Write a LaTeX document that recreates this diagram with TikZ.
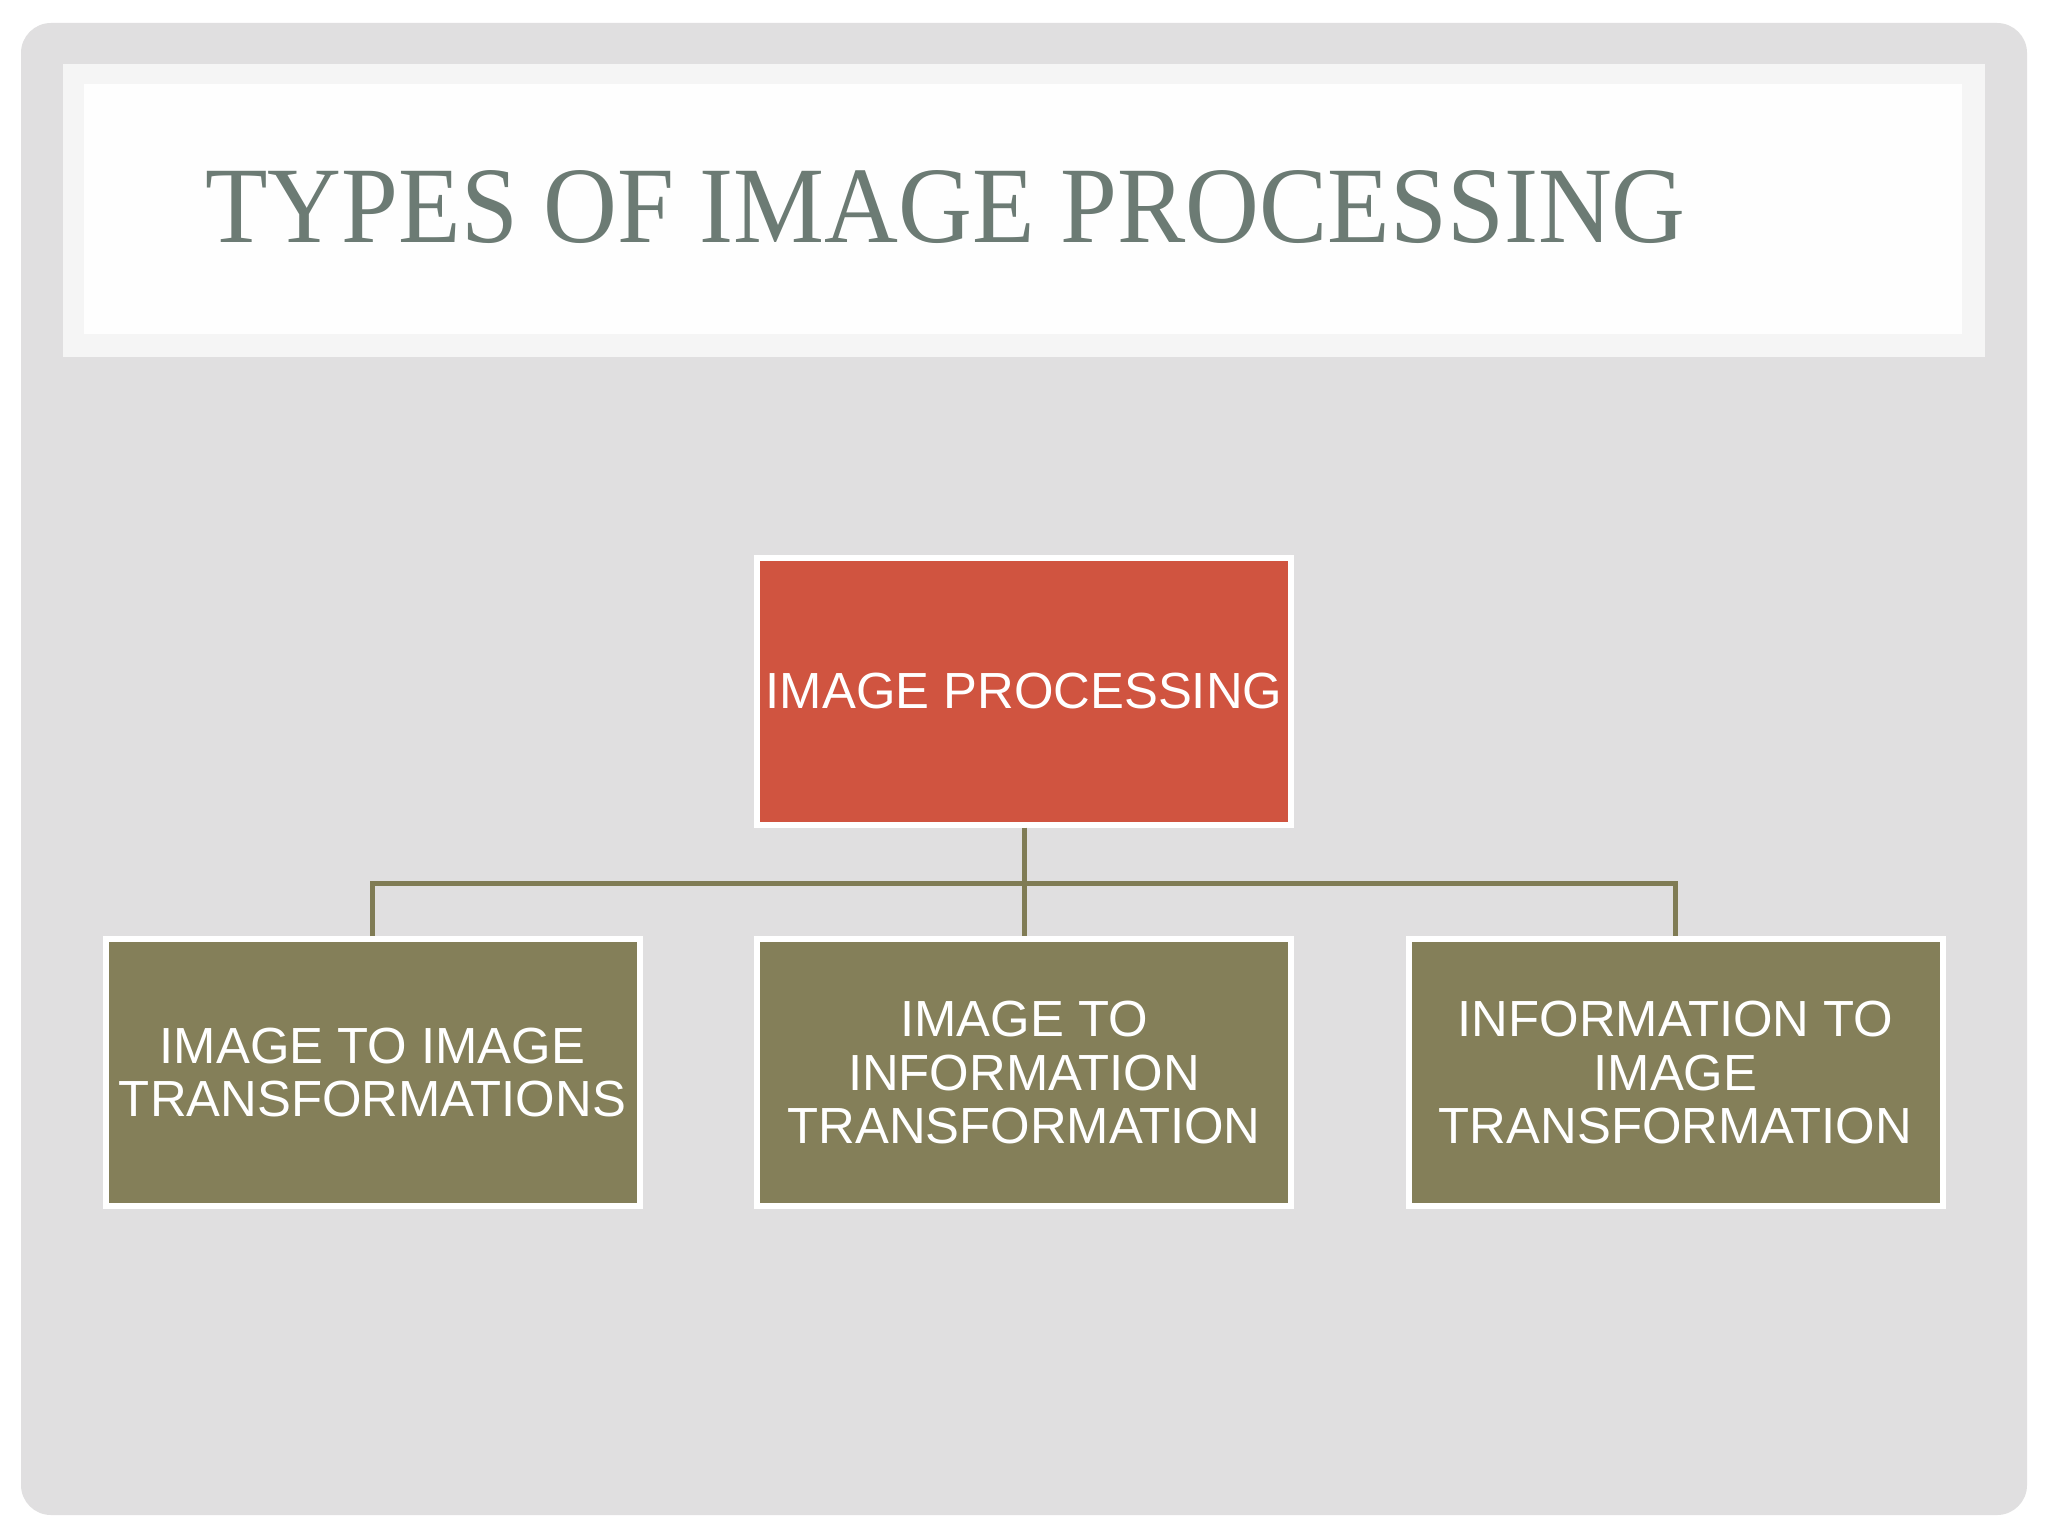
\documentclass[tikz,border=0pt]{standalone}
\usepackage{fontspec}
\setmainfont{Liberation Sans}
\newfontfamily\titlefont{Liberation Serif}
\usepackage{graphicx}
\definecolor{bgpage}{HTML}{E0DFE0}
\definecolor{bandout}{HTML}{F5F5F5}
\definecolor{bandin}{HTML}{FEFEFE}
\definecolor{titlecol}{HTML}{6C7B74}
\definecolor{redbox}{HTML}{D05440}
\definecolor{olivebox}{HTML}{847F59}
\definecolor{conncol}{HTML}{807C55}
\tikzset{
  boxstyle/.style={draw=white, line width=3pt, minimum width=267pt, minimum height=133.5pt,
    inner sep=0pt, align=center, text=white,
    font=\fontsize{25.4pt}{26.75pt}\selectfont},
  topbox/.style={boxstyle, fill=redbox},
  subbox/.style={boxstyle, fill=olivebox},
  conn/.style={draw=conncol, line width=2.5pt}
}
\begin{document}
\begin{tikzpicture}[x=0.5pt,y=-0.5pt]
\useasboundingbox (0,0) rectangle (2048,1536);
\fill[white] (0,0) rectangle (2048,1536);
\fill[bgpage, rounded corners=15pt] (21,23) rectangle (2027,1515);
\fill[bandout] (63,64) rectangle (1985,357);
\fill[bandin] (84,84) rectangle (1962,334);
\node[anchor=base west, inner sep=0pt, text=titlecol] (title) at (205,242)
  {\resizebox{740pt}{36pt}{\titlefont TYPES OF IMAGE PROCESSING}};
\node[topbox] (top) at (1024,691) {IMAGE PROCESSING};
\node[subbox] (b1) at (372.5,1072.5) {IMAGE TO IMAGE\\TRANSFORMATIONS};
\node[subbox] (b2) at (1024,1072.5) {IMAGE TO\\INFORMATION\\TRANSFORMATION};
\node[subbox] (b3) at (1675.5,1072.5) {INFORMATION TO\\IMAGE\\TRANSFORMATION};
\coordinate (bus) at (1024,883);
\draw[conn] (top.south) -- (b2.north);
\draw[conn] (b1.north) -- (b1.north |- bus) -- (b3.north |- bus) -- (b3.north);
\end{tikzpicture}
\end{document}
